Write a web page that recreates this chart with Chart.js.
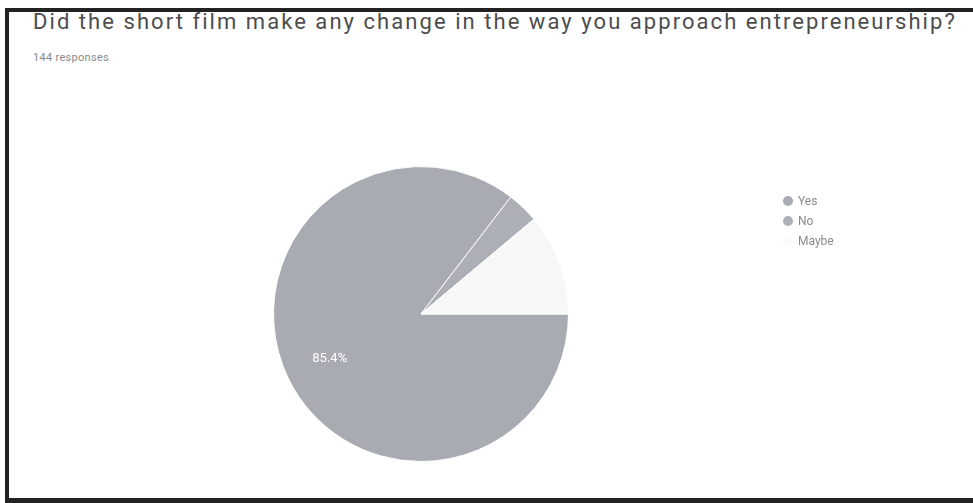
<!DOCTYPE html>
<html>
<head>
<meta charset="utf-8">
<script src="https://cdn.jsdelivr.net/npm/chart.js@4.4.1/dist/chart.umd.min.js"></script>
<style>
  html, body { margin: 0; padding: 0; background: #fff; }
  body { width: 973px; height: 503px; position: relative; overflow: hidden; font-family: Roboto, Arial, sans-serif; }
  #frame {
    position: absolute; left: 5px; top: 8px; width: 990px; height: 486px;
    border-top: 4px solid #222; border-left: 4px solid #222; border-bottom: 5px solid #222;
  }
  #title { position: absolute; left: 33px; top: 9px; font-size: 22px; color: #4d4d4d; white-space: nowrap; letter-spacing: 2.05px; }
  #sub { position: absolute; left: 33px; top: 51px; font-size: 11px; color: #8a8a8a; letter-spacing: 0.3px; }
  #wrap { position: absolute; left: 0; top: 0; width: 973px; height: 503px; }
</style>
</head>
<body>
<div id="frame"></div>
<div id="title">Did the short film make any change in the way you approach entrepreneurship?</div>
<div id="sub">144 responses</div>
<div id="wrap"><canvas id="pie"></canvas></div>
<script>
// answers and counts (144 responses)
const answers = ['Yes', 'No', 'Maybe'];
const counts = [123, 5, 16];
// scanned greys of the original blue / red / yellow
const sliceColors = ['#a9abb3', '#adafb6', '#f7f7f8'];

// percentage text, only readable on the big dark slice in the scan
const sliceLabels = {
    id: 'sliceLabels',
    afterDatasetsDraw(chart) {
        const ctx = chart.ctx;
        const total = counts.reduce((a, b) => a + b, 0);
        const meta = chart.getDatasetMeta(0);
        meta.data.forEach((arc, i) => {
            const pct = counts[i] / total * 100;
            if (pct < 20) return;
            const p = arc.getProps(['x', 'y', 'startAngle', 'endAngle', 'outerRadius'], true);
            const mid = (p.startAngle + p.endAngle) / 2;
            const d = p.outerRadius * 0.69;
            ctx.save();
            ctx.fillStyle = '#ffffff';
            ctx.font = '13px Roboto, Arial, sans-serif';
            ctx.textAlign = 'center';
            ctx.textBaseline = 'middle';
            ctx.fillText(pct.toFixed(1) + '%', p.x + Math.cos(mid) * d, p.y + Math.sin(mid) * d);
            ctx.restore();
        });
    }
};

// google style legend on the right
const sideLegend = {
    id: 'sideLegend',
    afterDraw(chart) {
        const ctx = chart.ctx;
        const colors = chart.data.datasets[0].backgroundColor;
        chart.data.labels.forEach((lab, i) => {
            const y = 201 + i * 20;
            ctx.save();
            ctx.beginPath();
            ctx.arc(788, y, 5, 0, Math.PI * 2);
            ctx.fillStyle = i === 2 ? '#fafafa' : colors[i];
            ctx.fill();
            ctx.fillStyle = '#8a8a8a';
            ctx.font = '12px Roboto, Arial, sans-serif';
            ctx.textBaseline = 'middle';
            ctx.fillText(lab, 798, y + 1);
            ctx.restore();
        });
    }
};

new Chart(document.getElementById('pie'), {
    type: 'pie',
    data: {
        labels: answers,
        datasets: [{
            data: counts,
            backgroundColor: sliceColors,
            borderColor: '#ffffff',
            borderWidth: 1
        }]
    },
    options: {
        responsive: true,
        maintainAspectRatio: false,
        animation: false,
        rotation: 90,
        layout: { padding: { left: 273, right: 404, top: 166, bottom: 41 } },
        plugins: {
            legend: { display: false },
            tooltip: { enabled: false }
        }
    },
    plugins: [sliceLabels, sideLegend]
});
</script>
</body>
</html>
